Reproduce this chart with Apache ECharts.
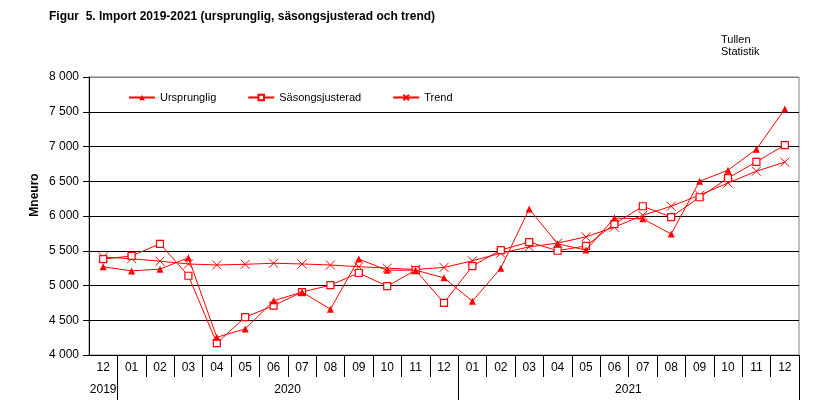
<!DOCTYPE html>
<html>
<head>
<meta charset="utf-8">
<script src="https://cdn.jsdelivr.net/npm/echarts@6/dist/echarts.min.js"></script>
<style>
html,body{margin:0;padding:0;background:#fff;}
#c{width:832px;height:416px;}
</style>
</head>
<body>
<div id="c"></div>
<script>
var months = ['12','01','02','03','04','05','06','07','08','09','10','11','12','01','02','03','04','05','06','07','08','09','10','11','12'];
var yearLabels = {0:'2019', 6:'2020', 18:'2021'};
var yearBoundaries = [1, 13];
var ursprunglig = [5270,5210,5235,5400,4255,4375,4780,4905,4660,5380,5220,5220,5110,4775,5250,6100,5600,5510,5970,5960,5740,6500,6660,6960,7540];
var sasongsjusterad = [5380,5425,5600,5140,4170,4545,4710,4905,5005,5180,4990,5220,4750,5280,5510,5625,5500,5570,5885,6140,5985,6270,6545,6780,7020];
var trend = [5410,5385,5350,5310,5295,5305,5320,5310,5295,5270,5250,5230,5260,5355,5465,5555,5610,5700,5840,6010,6140,6300,6475,6645,6775];
var yTicks = {min:4000, max:8000, interval:500};

var FONT = "'Liberation Sans', Arial, sans-serif";
var RED = '#ff0000';
var chart = echarts.init(document.getElementById('c'));
var splitColors = [];
for (var v = yTicks.min; v <= yTicks.max; v += yTicks.interval) splitColors.push(v === yTicks.max ? '#808080' : '#000000');

chart.setOption({
  animation: false,
  backgroundColor: '#fff',
  textStyle: {fontFamily: FONT},
  grid: {left: 89, right: 33, top: 77, bottom: 61, show: true, borderColor: '#808080', borderWidth: 1, backgroundColor: 'transparent'},
  graphic: [
    {type: 'text', left: 49, top: 11, style: {text: 'Figur  5. Import 2019-2021 (ursprunglig, säsongsjusterad och trend)', font: 'bold 12px ' + FONT, fill: '#000'}},
    {type: 'text', left: 721, top: 34, style: {text: 'Tullen\nStatistik', font: '11px ' + FONT, fill: '#000', lineHeight: 12}},
    {type: 'text', x: 35, y: 195, rotation: Math.PI / 2, style: {text: 'Mneuro', font: 'bold 12px ' + FONT, fill: '#000', align: 'center', verticalAlign: 'middle'}}
  ],
  legend: {
    left: 128, top: 92, padding: 0, itemWidth: 26, itemHeight: 7, itemGap: 31,
    textStyle: {fontFamily: FONT, fontSize: 11, color: '#000'},
    data: ['Ursprunglig', 'Säsongsjusterad', 'Trend']
  },
  xAxis: [
    {
      type: 'category', data: months, position: 'bottom', boundaryGap: true,
      axisLine: {show: true, lineStyle: {color: '#000', width: 1}},
      axisTick: {show: true, length: 22, interval: function (i) { return i > 0; }, lineStyle: {color: '#000'}},
      axisLabel: {interval: 0, margin: 7, fontSize: 12, color: '#000', fontFamily: FONT}
    },
    {
      type: 'category', data: months, position: 'bottom', boundaryGap: true, offset: 0,
      axisLine: {show: false},
      axisTick: {show: true, length: 45, interval: function (i) { return yearBoundaries.indexOf(i) >= 0; }, lineStyle: {color: '#000'}},
      axisLabel: {
        interval: function (i) { return yearLabels[i] !== undefined; },
        margin: 29, fontSize: 12, color: '#000', fontFamily: FONT,
        formatter: function (val, i) { return i === 0 ? yearLabels[0] : '{s|' + (yearLabels[i] || '') + '}'; },
        rich: {s: {padding: [0, 0, 0, 28], fontSize: 12, color: '#000', fontFamily: FONT}}
      }
    }
  ],
  yAxis: {
    type: 'value', min: yTicks.min, max: yTicks.max, interval: yTicks.interval,
    axisLine: {show: true, lineStyle: {color: '#000'}},
    axisTick: {show: true, length: 6, lineStyle: {color: '#000'}},
    axisLabel: {fontSize: 12, color: '#000', margin: 10, fontFamily: FONT,
      formatter: function (v) { return String(v).replace(/\B(?=(\d{3})+(?!\d))/g, ' '); }},
    splitLine: {show: true, lineStyle: {color: splitColors, width: 1}}
  },
  series: [
    {
      name: 'Trend', type: 'line', data: trend, xAxisIndex: 0,
      symbol: 'path://M0,0L10,10M0,10L10,0', symbolSize: 9, showAllSymbol: true,
      lineStyle: {color: RED, width: 1}, itemStyle: {color: 'none', borderColor: RED, borderWidth: 1},
      z: 2
    },
    {
      name: 'Säsongsjusterad', type: 'line', data: sasongsjusterad, xAxisIndex: 0,
      symbol: 'rect', symbolSize: 7, showAllSymbol: true,
      lineStyle: {color: RED, width: 1}, itemStyle: {color: '#fff', borderColor: RED, borderWidth: 1.2},
      z: 3
    },
    {
      name: 'Ursprunglig', type: 'line', data: ursprunglig, xAxisIndex: 0,
      symbol: 'triangle', symbolSize: 7, showAllSymbol: true,
      lineStyle: {color: RED, width: 1}, itemStyle: {color: RED, borderColor: RED, borderWidth: 0},
      z: 4
    }
  ]
});
</script>
</body>
</html>
